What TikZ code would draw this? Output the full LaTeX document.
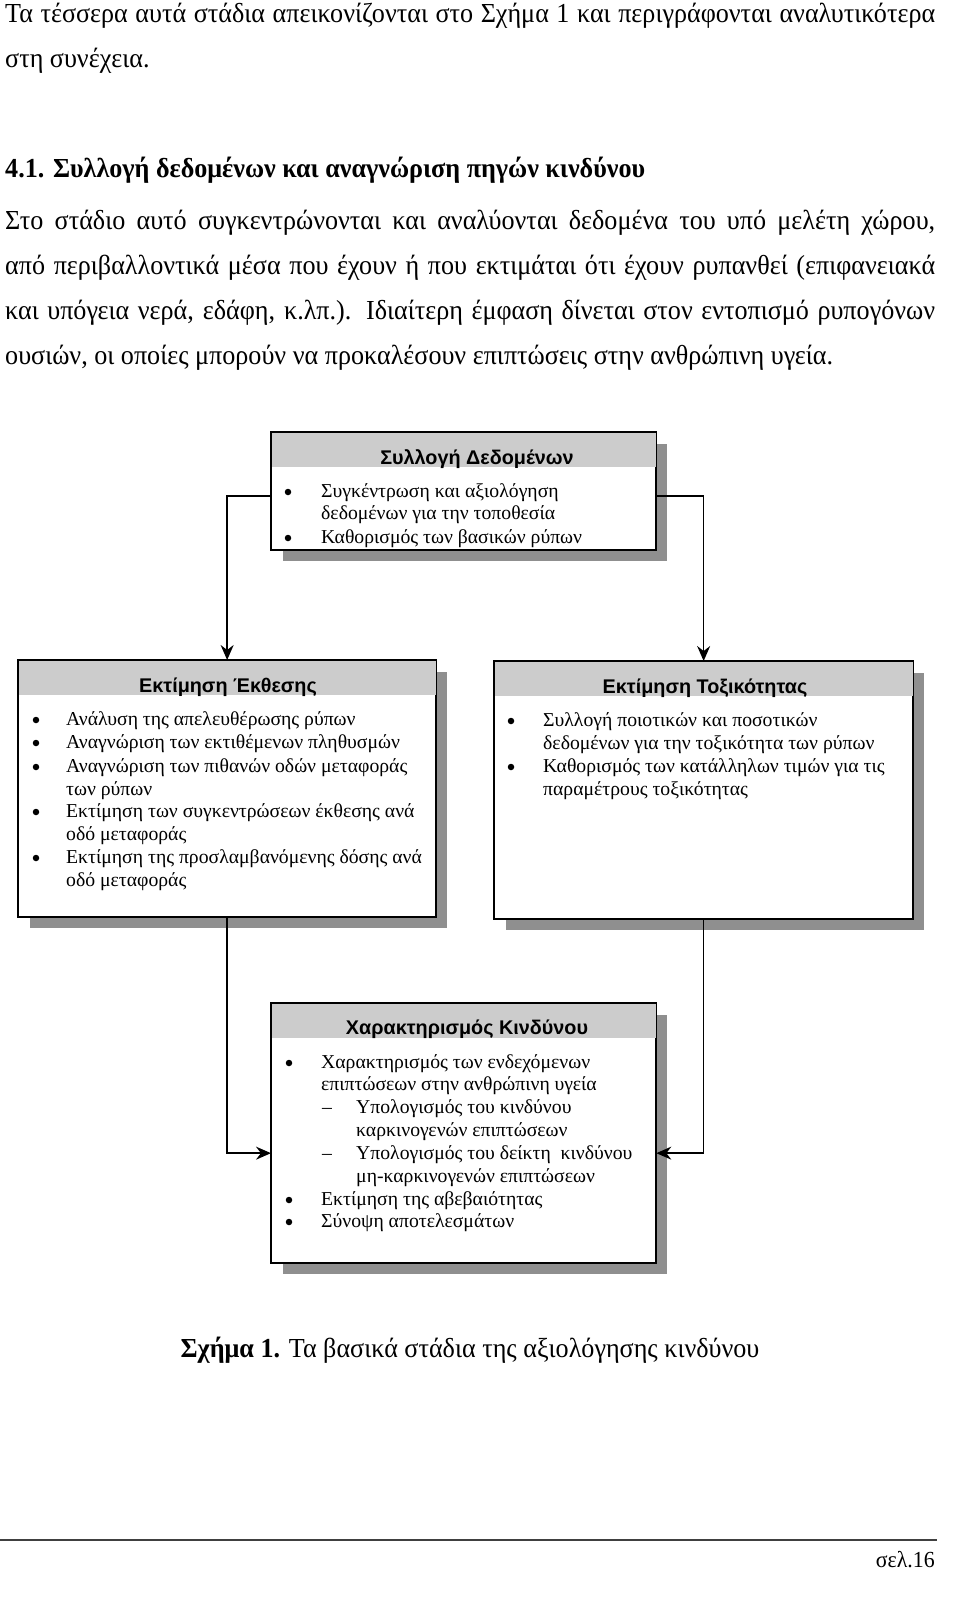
\documentclass[tikz,border=0pt]{standalone}
\usepackage{fontspec}
\setmainfont{Liberation Serif}
\newfontfamily\bodyfont{Liberation Serif}[FakeStretch=0.95]
\newfontfamily\hdrfont{Liberation Sans}
\usetikzlibrary{arrows.meta,shadows}
\definecolor{hdrgray}{gray}{0.80}
\definecolor{shadowgray}{gray}{0.56}
\newcommand\bodyfs{\bodyfont\fontsize{27.5}{32}\selectfont}
\newcommand\boxfs{\fontsize{19.7}{23}\selectfont}
\begin{document}
\begin{tikzpicture}[x=1pt,y=-1pt,
  body/.style={inner sep=0pt, anchor=base west, font=\bodyfs},
  bx/.style={inner sep=0pt, anchor=base west, font=\boxfs},
  bul/.style={circle, fill=black, inner sep=0pt, minimum size=6.5pt},
  hdr/.style={inner sep=0pt, anchor=base, font=\hdrfont\bfseries\fontsize{19.8}{23}\selectfont},
  box/.style={draw=black, line width=1.3pt, fill=white, anchor=north west, inner sep=0pt,
    drop shadow={shadow xshift=11pt, shadow yshift=-11pt, fill=shadowgray, opacity=1}},
  conn/.style={draw=black, line width=1.5pt, -{Stealth[length=15pt,width=13pt,inset=5pt]}}]
\useasboundingbox (0,0) rectangle (960,1599);
\fill[white] (0,0) rectangle (960,1599);

% ---- running text
\node[body] (p1) at (5,22) {\makebox[930pt][s]{Τα τέσσερα αυτά στάδια απεικονίζονται στο Σχήμα 1 και περιγράφονται αναλυτικότερα}};
\node[body] (p2) at (5,67) {στη συνέχεια.};
\node[body] (hd) at (5,177) {\bfseries 4.1. Συλλογή δεδομένων και αναγνώριση πηγών κινδύνου};
\node[body] (q1) at (5,229) {\makebox[930pt][s]{Στο στάδιο αυτό συγκεντρώνονται και αναλύονται δεδομένα του υπό μελέτη χώρου,}};
\node[body] (q2) at (5,274) {\makebox[930pt][s]{από περιβαλλοντικά μέσα που έχουν ή που εκτιμάται ότι έχουν ρυπανθεί (επιφανειακά}};
\node[body] (q3) at (5,319) {\makebox[930pt][s]{και υπόγεια νερά, εδάφη, κ.λπ.). Ιδιαίτερη έμφαση δίνεται στον εντοπισμό ρυπογόνων}};
\node[body] (q4) at (5,364) {ουσιών, οι οποίες μπορούν να προκαλέσουν επιπτώσεις στην ανθρώπινη υγεία.};

% ---- boxes
\node[box, minimum width=384pt, minimum height=117pt] (b1) at (271,432) {};
\node[box, minimum width=417pt, minimum height=256pt] (b2) at (18,660) {};
\node[box, minimum width=418pt, minimum height=257pt] (b3) at (494,661) {};
\node[box, minimum width=384pt, minimum height=259pt] (b4) at (271,1003) {};
\foreach \b in {b1,b2,b3,b4}{
  \fill[hdrgray] (\b.north west) rectangle ([yshift=-35pt]\b.north east);
  \draw[line width=1.3pt] (\b.north west) rectangle (\b.south east);
}

% ---- headers
\node[hdr] (h1) at (477,464) {Συλλογή Δεδομένων};
\node[hdr] (h2) at (228,692) {Εκτίμηση Έκθεσης};
\node[hdr] (h3) at (705,693) {Εκτίμηση Τοξικότητας};
\node[hdr] (h4) at (467,1034) {Χαρακτηρισμός Κινδύνου};

% ---- box 1 text
\node[bul] (d11) at (288,492) {};
\node[bul] (d12) at (288,538) {};
\node[bx] (t11) at (321,497) {Συγκέντρωση και αξιολόγηση};
\node[bx] (t12) at (321,519) {δεδομένων για την τοποθεσία};
\node[bx] (t13) at (321,543) {Καθορισμός των βασικών ρύπων};

% ---- box 2 text
\foreach \y [count=\i] in {720,743,767,812,858} \node[bul] (d2\i) at (36,\y) {};
\node[bx] (t21) at (66,725) {Ανάλυση της απελευθέρωσης ρύπων};
\node[bx] (t22) at (66,748) {Αναγνώριση των εκτιθέμενων πληθυσμών};
\node[bx] (t23) at (66,772) {Αναγνώριση των πιθανών οδών μεταφοράς};
\node[bx] (t24) at (66,795) {των ρύπων};
\node[bx] (t25) at (66,817) {Εκτίμηση των συγκεντρώσεων έκθεσης ανά};
\node[bx] (t26) at (66,840) {οδό μεταφοράς};
\node[bx] (t27) at (66,863) {Εκτίμηση της προσλαμβανόμενης δόσης ανά};
\node[bx] (t28) at (66,886) {οδό μεταφοράς};

% ---- box 3 text
\foreach \y [count=\i] in {721,767} \node[bul] (d3\i) at (511,\y) {};
\node[bx] (t31) at (543,726) {Συλλογή ποιοτικών και ποσοτικών};
\node[bx] (t32) at (543,749) {δεδομένων για την τοξικότητα των ρύπων};
\node[bx] (t33) at (543,772) {Καθορισμός των κατάλληλων τιμών για τις};
\node[bx] (t34) at (543,795) {παραμέτρους τοξικότητας};

% ---- box 4 text
\foreach \y [count=\i] in {1063,1200,1222} \node[bul] (d4\i) at (289,\y) {};
\node[bx] (e41) at (322,1113) {–};
\node[bx] (e42) at (322,1159) {–};
\node[bx] (t41) at (321,1068) {Χαρακτηρισμός των ενδεχόμενων};
\node[bx] (t42) at (321,1090) {επιπτώσεων στην ανθρώπινη υγεία};
\node[bx] (t43) at (356,1113) {Υπολογισμός του κινδύνου};
\node[bx] (t44) at (356,1136) {καρκινογενών επιπτώσεων};
\node[bx] (t45) at (356,1159) {Υπολογισμός του δείκτη\ \ κινδύνου};
\node[bx] (t46) at (356,1182) {μη-καρκινογενών επιπτώσεων};
\node[bx] (t47) at (321,1205) {Εκτίμηση της αβεβαιότητας};
\node[bx] (t48) at (321,1227) {Σύνοψη αποτελεσμάτων};

% ---- connectors
\draw[conn] ([yshift=-5pt]b1.west) -| (b2.north);
\draw[conn] ([yshift=-5pt]b1.east) -| (b3.north);
\draw[conn] (b2.south) |- ([yshift=-20pt]b4.west);
\draw[conn] (b3.south) |- ([yshift=-20pt]b4.east);

% ---- caption and footer
\node[body, anchor=base] (cap) at (470,1357) {\textbf{Σχήμα 1.} Τα βασικά στάδια της αξιολόγησης κινδύνου};
\coordinate (fl) at (0,1540);
\coordinate (fr) at (937,1540);
\draw[line width=1.2pt, black!75] (fl) -- (fr);
\node[inner sep=0pt, anchor=base east, font=\bodyfont\fontsize{23}{26}\selectfont] (pg) at (935,1567) {σελ.16};
\end{tikzpicture}
\end{document}
